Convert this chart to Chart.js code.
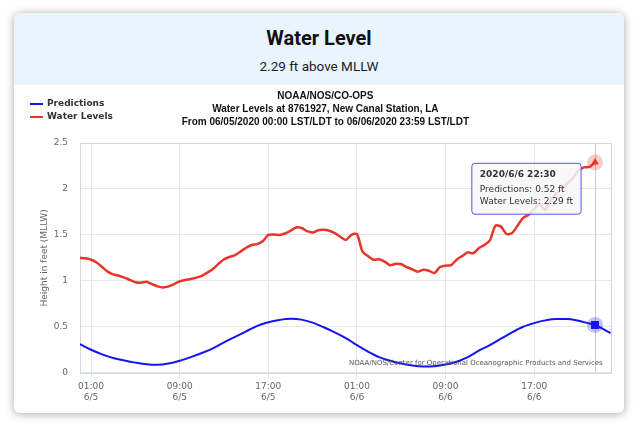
<!DOCTYPE html>
<html>
<head>
  <meta charset="UTF-8">
  <title>Water Level</title>
  <script src="https://cdn.jsdelivr.net/npm/chart.js"></script>
  <style>
    body { margin: 0; background: #fff; font-family: Roboto, sans-serif; }
    .card {
      position: absolute; left: 14px; top: 13px;
      width: 610px; height: 400px;
      background: #fff; border-radius: 6px;
      box-shadow: 0 1px 8px rgba(0,0,0,0.35);
      overflow: hidden;
    }
    .header { height: 72px; background: #eaf4fd; text-align: center; }
    .header h1 { margin: 0; padding-top: 13px; font-size: 20px; line-height: 24px; font-weight: 700; color: #111; }
    .header p { margin: 8px 0 0; font-size: 13.5px; line-height: 16px; color: #222; }
    .chart-box { position: relative; width: 610px; height: 328px; }
  </style>
</head>
<body>
  <div class="card">
    <div class="header">
      <h1>Water Level</h1>
      <p>2.29 ft above MLLW</p>
    </div>
    <div class="chart-box"><canvas id="chart"></canvas></div>
  </div>

  <script>
    // hours since 06/05/2020 00:00 LST/LDT
    const predHours = [0, 1, 2, 3, 4, 5, 6, 7, 8, 9, 10, 11, 12, 13, 14, 15, 16, 17, 18, 19, 20, 21, 22, 23,
                       24, 25, 26, 27, 28, 29, 30, 31, 32, 33, 34, 35, 36, 37, 38, 39, 40, 41, 42, 43, 44, 45, 46, 46.5, 47, 47.9];
    const predValues = [0.31, 0.25, 0.20, 0.16, 0.133, 0.11, 0.092, 0.086, 0.10, 0.13, 0.17, 0.215, 0.265, 0.33, 0.39, 0.45, 0.51, 0.55, 0.575, 0.587, 0.578, 0.545, 0.495, 0.44,
                        0.377, 0.30, 0.23, 0.17, 0.13, 0.10, 0.078, 0.068, 0.07, 0.09, 0.12, 0.17, 0.24, 0.30, 0.37, 0.44, 0.50, 0.54, 0.57, 0.585, 0.585, 0.565, 0.535, 0.52, 0.49, 0.43];

    // observed water levels, one reading every half hour from 00:00 6/5
    const wlStartHour = 0;
    const wlStepHours = 0.5;
    const wlValues = [1.25, 1.245, 1.23, 1.20, 1.15, 1.10, 1.07, 1.055, 1.035, 1.01, 0.985, 0.98, 0.99, 0.965, 0.94, 0.928,
                      0.94, 0.965, 0.995, 1.01, 1.02, 1.035, 1.055, 1.09, 1.13, 1.185, 1.235, 1.26, 1.28, 1.32, 1.36, 1.39,
                      1.40, 1.43, 1.50, 1.505, 1.50, 1.515, 1.545, 1.58, 1.575, 1.54, 1.525, 1.55, 1.555, 1.545, 1.52, 1.48,
                      1.445, 1.50, 1.51, 1.32, 1.27, 1.23, 1.235, 1.21, 1.17, 1.185, 1.18, 1.15, 1.125, 1.10, 1.12, 1.11,
                      1.085, 1.15, 1.165, 1.17, 1.23, 1.27, 1.31, 1.30, 1.355, 1.39, 1.44, 1.60, 1.59, 1.51, 1.52, 1.60,
                      1.685, 1.72, 1.78, 1.84, 1.77, 1.88, 1.95, 2.00, 2.06, 2.12, 2.20, 2.235, 2.24, 2.29];

    const xTickHours = [1, 9, 17, 25, 33, 41];
    const xTickTimes = ['01:00', '09:00', '17:00', '01:00', '09:00', '17:00'];
    const xTickDates = ['6/5', '6/5', '6/5', '6/6', '6/6', '6/6'];
    const yTicks = [0, 0.5, 1, 1.5, 2, 2.5];
    const titleLines = [
      'NOAA/NOS/CO-OPS',
      'Water Levels at 8761927, New Canal Station, LA',
      'From 06/05/2020 00:00 LST/LDT to 06/06/2020 23:59 LST/LDT'
    ];
    const creditText = 'NOAA/NOS/Center for Operational Oceanographic Products and Services';
    const hoverHour = 46.5;

    const BLUE = '#1414ee';
    const RED = '#e8352a';
    const GRID = '#e3e6ec';
    const tickFont = { family: 'DejaVu Sans', size: 9 };

    function fmtTime(h) {
      const day = 5 + Math.floor(h / 24);
      const hh = Math.floor(h % 24);
      const mm = Math.round((h - Math.floor(h)) * 60);
      return `2020/6/${day} ${String(hh).padStart(2, '0')}:${String(mm).padStart(2, '0')}`;
    }

    Chart.Tooltip.positioners.besideWater = function(elements) {
      const hit = elements.find(e => e.datasetIndex === 1) || elements[0];
      if (!hit) return false;
      return { x: hit.element.x - 17, y: hit.element.y + 1 };
    };

    const extras = {
      id: 'extras',
      beforeDatasetsDraw(chart) {
        const { ctx, chartArea: a, scales } = chart;
        ctx.save();
        ctx.strokeStyle = '#d3d8e0';
        ctx.lineWidth = 1;
        ctx.strokeRect(Math.round(a.left) + 0.5, Math.round(a.top) + 0.5, Math.round(a.width) - 1, Math.round(a.height));
        const cx = Math.round(scales.x.getPixelForValue(hoverHour)) + 0.5;
        ctx.strokeStyle = '#cccccc';
        ctx.beginPath();
        ctx.moveTo(cx, a.top);
        ctx.lineTo(cx, a.bottom);
        ctx.stroke();
        ctx.restore();
      },
      afterDatasetsDraw(chart) {
        const { ctx } = chart;
        ctx.save();
        chart.getActiveElements().forEach(({ datasetIndex, element }) => {
          const color = chart.data.datasets[datasetIndex].borderColor;
          ctx.globalAlpha = 0.25;
          ctx.fillStyle = color;
          ctx.beginPath();
          ctx.arc(element.x, element.y, 8, 0, Math.PI * 2);
          ctx.fill();
          ctx.globalAlpha = 1;
          element.draw(ctx, chart.chartArea);
        });
        ctx.restore();
      },
      afterDraw(chart) {
        const { ctx, chartArea: a } = chart;
        ctx.save();
        ctx.font = '7px "DejaVu Sans"';
        ctx.fillStyle = '#555';
        ctx.textAlign = 'right';
        ctx.textBaseline = 'middle';
        ctx.fillText(creditText, a.right - 9, a.bottom - 10);

        // legend, stacked at top left
        ctx.font = 'bold 9px "DejaVu Sans"';
        ctx.textAlign = 'left';
        ctx.fillStyle = '#333';
        chart.data.datasets.forEach((ds, i) => {
          const y = 19 + i * 13;
          ctx.strokeStyle = ds.borderColor;
          ctx.lineWidth = 2;
          ctx.beginPath();
          ctx.moveTo(16, y);
          ctx.lineTo(29, y);
          ctx.stroke();
          ctx.fillText(ds.label, 33, y);
        });
        ctx.restore();
      }
    };

    const chart = new Chart(document.getElementById('chart'), {
      type: 'line',
      data: {
        datasets: [
          {
            label: 'Predictions',
            data: predHours.map((h, i) => ({ x: h, y: predValues[i] })),
            borderColor: BLUE,
            backgroundColor: BLUE,
            borderWidth: 2,
            cubicInterpolationMode: 'monotone',
            pointRadius: 0,
            pointStyle: 'rect',
            pointHoverRadius: 5.5,
            pointHoverBackgroundColor: BLUE,
            pointHoverBorderColor: BLUE,
            pointHoverBorderWidth: 0
          },
          {
            label: 'Water Levels',
            data: wlValues.map((v, i) => ({ x: wlStartHour + i * wlStepHours, y: v })),
            borderColor: RED,
            backgroundColor: RED,
            borderWidth: 2.5,
            tension: 0.25,
            pointRadius: 0,
            pointStyle: 'triangle',
            pointHoverRadius: 4,
            pointHoverBackgroundColor: RED,
            pointHoverBorderColor: RED,
            pointHoverBorderWidth: 0
          }
        ]
      },
      options: {
        responsive: true,
        maintainAspectRatio: false,
        animation: false,
        events: [],
        layout: { padding: { left: 25, right: 12.3, bottom: 7.3 } },
        plugins: {
          legend: { display: false },
          title: {
            display: true,
            text: titleLines,
            color: '#111',
            font: { family: 'Liberation Sans', size: 10, weight: 'bold', lineHeight: 1.3 },
            padding: { top: 4.5, bottom: 14.5 }
          },
          tooltip: {
            position: 'besideWater',
            xAlign: 'right',
            yAlign: 'top',
            caretSize: 0,
            caretPadding: 0,
            backgroundColor: 'rgba(247,247,247,0.85)',
            borderColor: 'rgba(50,60,235,0.85)',
            borderWidth: 1,
            cornerRadius: 3,
            titleColor: '#333',
            bodyColor: '#333',
            titleFont: { family: 'DejaVu Sans', size: 9, weight: 'bold' },
            bodyFont: { family: 'DejaVu Sans', size: 9 },
            padding: { top: 6, bottom: 7, left: 8, right: 8 },
            titleMarginBottom: 4,
            bodySpacing: 1.5,
            displayColors: false,
            callbacks: {
              title: items => fmtTime(items[0].parsed.x),
              label: item => `${item.dataset.label}: ${item.parsed.y.toFixed(2)} ft`
            }
          }
        },
        scales: {
          x: {
            type: 'linear',
            min: 0,
            max: 48,
            afterBuildTicks: axis => { axis.ticks = xTickHours.map(v => ({ value: v })); },
            ticks: {
              autoSkip: false,
              maxRotation: 0,
              padding: 2.5,
              color: '#666',
              font: { ...tickFont, lineHeight: 1.22 },
              callback: (v, i) => [xTickTimes[i], xTickDates[i]]
            },
            grid: { color: GRID, drawTicks: true, tickLength: 6 },
            border: { display: false }
          },
          y: {
            min: 0,
            max: 2.5,
            afterBuildTicks: axis => { axis.ticks = yTicks.map(v => ({ value: v })); },
            afterFit: axis => { axis.width = 41; },
            ticks: {
              padding: 12,
              color: '#666',
              font: tickFont,
              callback: v => String(v)
            },
            grid: { color: GRID, drawTicks: false },
            border: { display: false },
            title: {
              display: true,
              text: 'Height in feet (MLLW)',
              color: '#666',
              font: { family: 'DejaVu Sans', size: 9 },
              padding: { top: 0, bottom: 3 }
            }
          }
        }
      },
      plugins: [extras]
    });

    const predIdx = predHours.indexOf(hoverHour);
    const wlIdx = wlValues.length - 1;
    const active = [{ datasetIndex: 0, index: predIdx }, { datasetIndex: 1, index: wlIdx }];
    chart.setActiveElements(active);
    chart.tooltip.setActiveElements(active, { x: 0, y: 0 });
    chart.render();
  </script>
</body>
</html>
